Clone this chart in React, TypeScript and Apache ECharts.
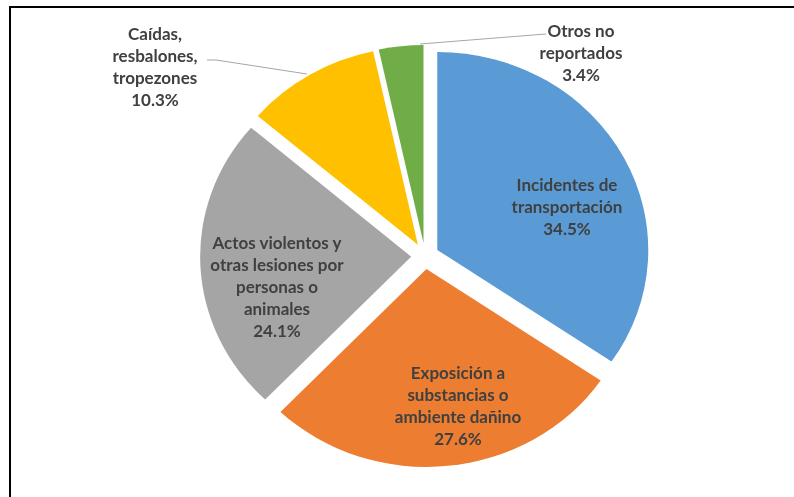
import React, { useEffect, useRef } from "react";
import * as echarts from "echarts";

const categories = [
  "Incidentes de\ntransportación",
  "Exposición a\nsubstancias o\nambiente dañino",
  "Actos violentos y\notras lesiones por\npersonas o\nanimales",
  "Caídas,\nresbalones,\ntropezones",
  "Otros no\nreportados",
];
const values = [34.5, 27.6, 24.1, 10.3, 3.4];
const colors = ["#5B9BD5", "#ED7D31", "#A5A5A5", "#FFC000", "#70AD47"];

// layout (not data)
const CX = 425;
const CY = 256;
const R = 198;
const STRETCH_X = 211 / 198;
const labelPos: [number, number][] = [
  [567, 206],
  [458, 405],
  [277, 286],
  [155, 66],
  [581, 52],
];
const leaderLines: ([number, number][] | null)[] = [
  null,
  null,
  null,
  [
    [207, 60],
    [216, 60],
    [307, 74],
  ],
  [
    [420, 44],
    [546, 34],
  ],
];

export default function App() {
  const pieRef = useRef<HTMLDivElement>(null);
  const txtRef = useRef<HTMLDivElement>(null);
  useEffect(() => {
    if (!pieRef.current || !txtRef.current) return;
    const pie = echarts.init(pieRef.current, null, { renderer: "svg" });
    pie.setOption({
      animation: false,
      series: [
        {
          type: "pie",
          center: [CX, CY],
          radius: R,
          startAngle: 90,
          clockwise: true,
          selectedMode: "multiple",
          selectedOffset: 13,
          emphasis: { disabled: true },
          label: { show: false },
          labelLine: { show: false },
          data: values.map((v, i) => ({
            name: categories[i],
            value: v,
            selected: true,
            itemStyle: { color: colors[i] },
          })),
        },
      ],
    });

    const txt = echarts.init(txtRef.current, null, { renderer: "svg" });
    const graphics: any[] = [
      {
        type: "rect",
        shape: { x: 10, y: 7, width: 900, height: 600 },
        style: { fill: "none", stroke: "#000000", lineWidth: 2 },
        silent: true,
      },
    ];
    values.forEach((v, i) => {
      const line = leaderLines[i];
      if (line) {
        graphics.push({
          type: "polyline",
          shape: { points: line },
          style: { stroke: "#A6A6A6", lineWidth: 1, fill: "none" },
          silent: true,
        });
      }
      graphics.push({
        type: "text",
        x: labelPos[i][0],
        y: labelPos[i][1],
        style: {
          text: `${categories[i]}\n${v.toFixed(1)}%`,
          fill: "#404040",
          font: "bold 17px Lato",
          lineHeight: 22,
          align: "center",
          verticalAlign: "middle",
        },
        silent: true,
      });
    });
    txt.setOption({ animation: false, graphic: graphics });

    return () => {
      pie.dispose();
      txt.dispose();
    };
  }, []);
  return (
    <>
      <div
        ref={pieRef}
        style={{
          position: "fixed",
          left: 0,
          top: 0,
          width: 794,
          height: 497,
          transform: `scale(${STRETCH_X}, 1)`,
          transformOrigin: `${CX}px ${CY}px`,
        }}
      />
      <div
        ref={txtRef}
        style={{ position: "fixed", left: 0, top: 0, width: 794, height: 497 }}
      />
    </>
  );
}
